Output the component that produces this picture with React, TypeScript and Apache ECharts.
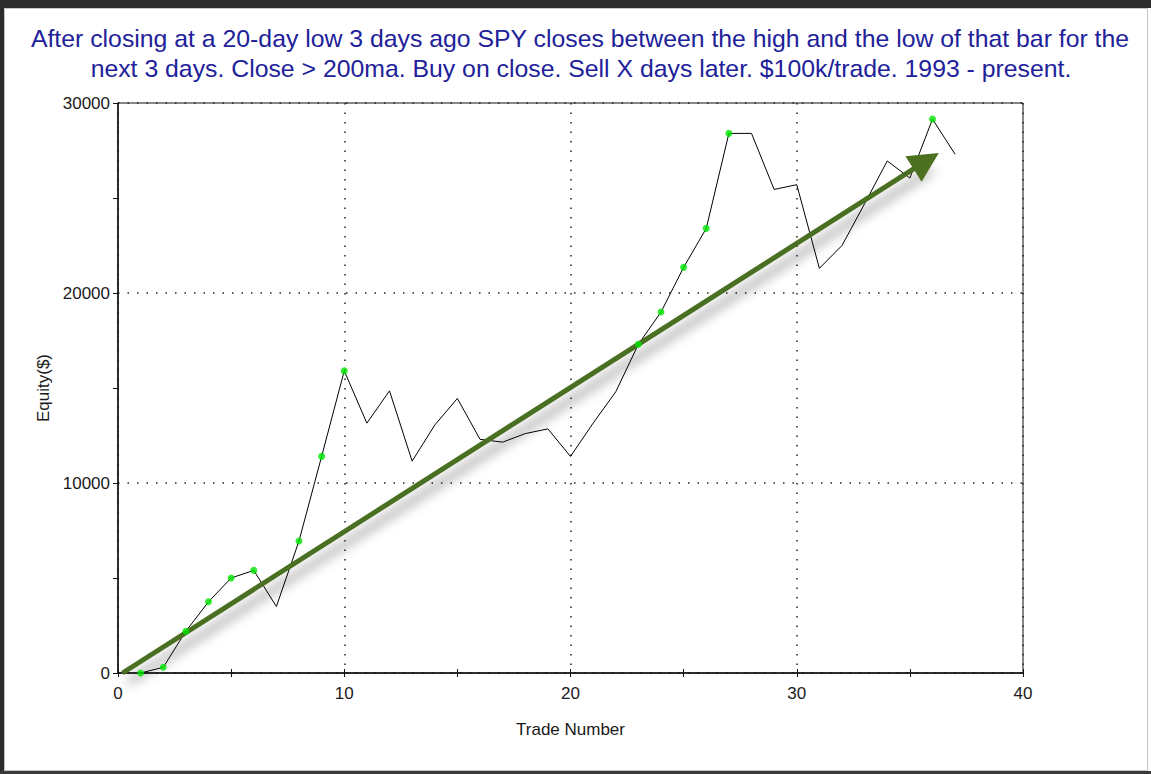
import React, { useEffect, useRef } from "react";
import * as echarts from "echarts";

const titleLines = [
  "After closing at a 20-day low 3 days ago SPY closes between the high and the low of that bar for the",
  "next 3 days. Close > 200ma. Buy on close. Sell X days later. $100k/trade. 1993 - present.",
];
const tradeNumbers = [
  1, 2, 3, 4, 5, 6, 7, 8, 9, 10, 11, 12, 13, 14, 15, 16, 17, 18, 19, 20, 21, 22, 23, 24, 25, 26, 27,
  28, 29, 30, 31, 32, 33, 34, 35, 36, 37,
];
const equity = [
  0, 300, 2200, 3750, 5000, 5400, 3500, 6950, 11400, 15900, 13150, 14850, 11150, 13050, 14450, 12300,
  12150, 12600, 12850, 11400, 13150, 14800, 17300, 19000, 21350, 23400, 28400, 28400, 25450, 25700,
  21300, 22500, 24700, 26950, 26050, 29150, 27300,
];
const xTicks = { min: 0, max: 40, interval: 10 };
const yTicks = { min: 0, max: 30000, interval: 10000 };
const arrowStart = [0.2, 0];
const arrowEnd = [35.72, 26950];

const FONT = "'Liberation Sans', Arial, sans-serif";

export default function App() {
  const ref = useRef<HTMLDivElement>(null);
  useEffect(() => {
    if (!ref.current) return;
    const chart = echarts.init(ref.current, null, { renderer: "svg" });
    const lineData = tradeNumbers.map((t, i) => [t, equity[i]]);
    const highs: number[][] = [];
    let best = -Infinity;
    equity.forEach((v, i) => {
      if (v > best) {
        highs.push([tradeNumbers[i], v]);
        best = v;
      }
    });
    const dotted = { color: "#222", width: 1.5, type: [1.5, 8] as any };
    const shadow = {
      shadowColor: "rgba(0,0,0,0.45)",
      shadowBlur: 12,
      shadowOffsetX: 6,
      shadowOffsetY: 9,
    };
    chart.setOption({
      animation: false,
      backgroundColor: "#ffffff",
      grid: {
        left: 118,
        top: 103,
        right: 128,
        bottom: 101,
        show: true,
        borderColor: "#111",
        borderWidth: 1,
        backgroundColor: "transparent",
        containLabel: false,
      },
      xAxis: [
        {
          type: "value",
          min: xTicks.min,
          max: xTicks.max,
          interval: xTicks.interval,
          name: "Trade Number",
          nameLocation: "middle",
          nameGap: 48,
          nameTextStyle: { fontFamily: FONT, fontSize: 17, color: "#1a1a1a" },
          axisLine: { show: true, onZero: false, lineStyle: { color: "#111", width: 1.5 } },
          axisTick: { show: true, length: 4, lineStyle: { color: "#111" } },
          minorTick: { show: true, splitNumber: 2, length: 4, lineStyle: { color: "#111" } },
          axisLabel: {
            fontFamily: FONT,
            fontSize: 17,
            color: "#1a1a1a",
            margin: 12,
            formatter: (v: number) => String(v),
          },
          splitLine: { show: true, lineStyle: dotted },
        },
        {
          type: "value",
          position: "bottom",
          min: xTicks.min,
          max: xTicks.max,
          interval: xTicks.interval,
          axisLine: { show: false, onZero: false },
          axisTick: { show: true, inside: true, length: 4, lineStyle: { color: "#111" } },
          minorTick: { show: true, splitNumber: 2, length: 4, lineStyle: { color: "#111" } },
          axisLabel: { show: false },
          splitLine: { show: false },
        },
      ],
      yAxis: {
        type: "value",
        min: yTicks.min,
        max: yTicks.max,
        interval: yTicks.interval,
        name: "Equity($)",
        nameLocation: "middle",
        nameGap: 65,
        nameTextStyle: { fontFamily: FONT, fontSize: 17, color: "#1a1a1a" },
        axisLine: { show: true, onZero: false, lineStyle: { color: "#111", width: 1.5 } },
        axisTick: { show: true, length: 5, lineStyle: { color: "#111" } },
        minorTick: { show: true, splitNumber: 2, length: 5, lineStyle: { color: "#111" } },
        axisLabel: {
          fontFamily: FONT,
          fontSize: 17,
          color: "#1a1a1a",
          margin: 8,
          formatter: (v: number) => String(v),
        },
        splitLine: { show: true, lineStyle: dotted },
      },
      series: [
        {
          type: "line",
          data: lineData,
          showSymbol: false,
          symbol: "none",
          lineStyle: { color: "#000", width: 1 },
          z: 3,
          markLine: {
            silent: true,
            symbol: ["none", "triangle"],
            symbolSize: 30,
            label: { show: false },
            lineStyle: {
              color: "#4a7020",
              width: 5,
              type: "solid",
              ...shadow,
            },
            itemStyle: { color: "#4a7020", ...shadow },
            data: [[{ coord: arrowStart }, { coord: arrowEnd }]],
          },
        },
        {
          type: "scatter",
          data: highs,
          symbol: "circle",
          symbolSize: 7,
          itemStyle: { color: "#00e600" },
          z: 5,
        },
      ],
      graphic: [
        {
          type: "text",
          x: 580,
          y: 38,
          style: {
            text: titleLines[0],
            fontFamily: FONT,
            fontSize: 24.8,
            fill: "#21219a",
            align: "center",
            verticalAlign: "middle",
          },
        },
        {
          type: "text",
          x: 581,
          y: 68,
          style: {
            text: titleLines[1],
            fontFamily: FONT,
            fontSize: 24.8,
            fill: "#21219a",
            align: "center",
            verticalAlign: "middle",
          },
        },
        { type: "rect", shape: { x: 0, y: 0, width: 1151, height: 8 }, style: { fill: "#2b2b2b" } },
        { type: "rect", shape: { x: 0, y: 0, width: 4, height: 774 }, style: { fill: "#2b2b2b" } },
        { type: "rect", shape: { x: 0, y: 771, width: 1151, height: 3 }, style: { fill: "#3a3a3a" } },
        {
          type: "rect",
          shape: { x: 4.5, y: 8.5, width: 1143, height: 762 },
          style: { fill: "none", stroke: "#c4c4c4", lineWidth: 1 },
        },
      ],
    });
    return () => chart.dispose();
  }, []);
  return (
    <div
      ref={ref}
      style={{ position: "absolute", left: 0, top: 0, width: 1151, height: 774, background: "#fff" }}
    />
  );
}
